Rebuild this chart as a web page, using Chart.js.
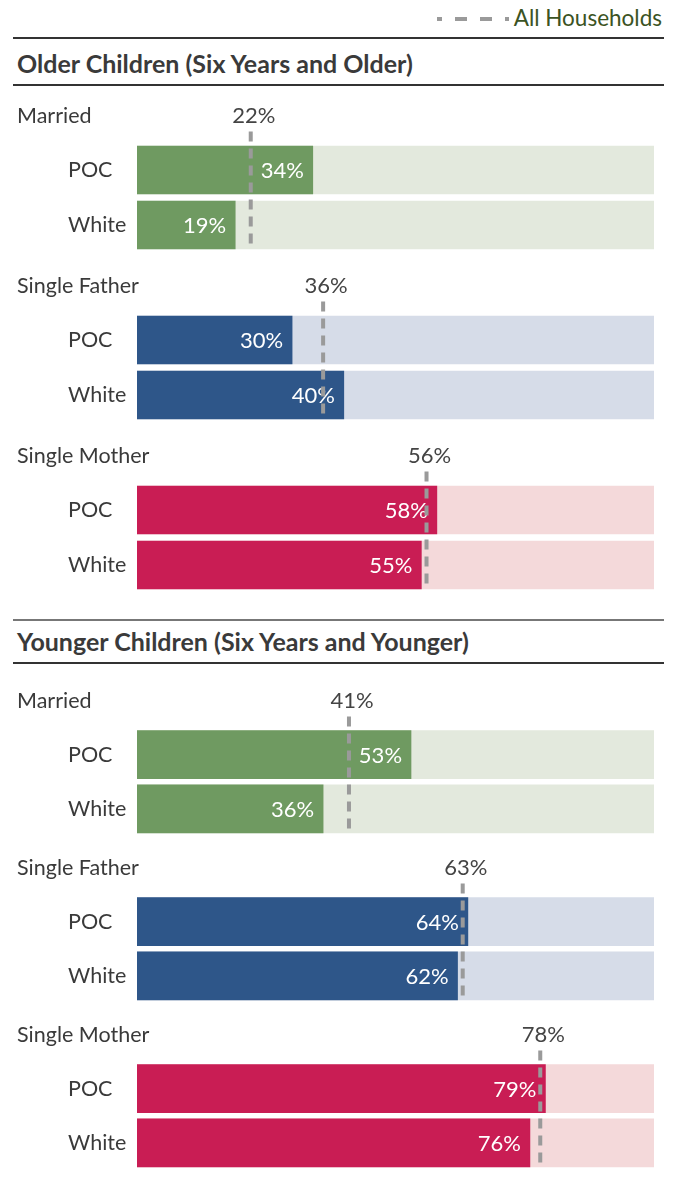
<!DOCTYPE html>
<html>
<head>
<meta charset="utf-8">
<script src="https://cdn.jsdelivr.net/npm/chart.js@4/dist/chart.umd.min.js"></script>
<style>
  body { margin: 0; background: #fff; font-family: Lato, "Noto Sans", sans-serif; }
  #page { position: relative; width: 676px; height: 1193px; overflow: hidden; }
  .rule { position: absolute; left: 13px; width: 651px; }
  .title { position: absolute; left: 17px; font-size: 25px; font-weight: 700; color: #3a3a3a; line-height: 1; }
  .legend { position: absolute; right: 14px; top: 7px; font-size: 22.5px; color: #3b5323; line-height: 1; }
  .group { position: absolute; left: 0; width: 676px; }
  #legendDash { position: absolute; left: 434px; top: 15px; }
</style>
</head>
<body>
<div id="page">
  <canvas id="legendDash" width="78" height="8"></canvas>
  <div class="legend">All Households</div>
</div>
<script>
// valores por sección y tipo de hogar
const secciones = ['Older Children (Six Years and Older)', 'Younger Children (Six Years and Younger)'];
const hogares = ['Married', 'Single Father', 'Single Mother'];
const razas = ['POC', 'White'];
const olderPoc = [34, 30, 58];
const olderWhite = [19, 40, 55];
const olderTodos = [22, 36, 56];
const youngerPoc = [53, 64, 79];
const youngerWhite = [36, 62, 76];
const youngerTodos = [41, 63, 78];

const colores = ['#6f9a61', '#2e5689', '#c91d54'];
const coloresFondo = ['#e3e9dd', '#d6dce8', '#f4d9da'];

const fuente = 'Lato, "Noto Sans", sans-serif';
const page = document.getElementById('page');

// línea punteada de la leyenda
const lctx = document.getElementById('legendDash').getContext('2d');
lctx.strokeStyle = '#9a9a9a';
lctx.lineWidth = 4;
lctx.setLineDash([12, 13]);
lctx.lineDashOffset = 7;
lctx.beginPath();
lctx.moveTo(3, 4);
lctx.lineTo(75, 4);
lctx.stroke();

function addRule(top, color, h) {
  const d = document.createElement('div');
  d.className = 'rule';
  d.style.top = top + 'px';
  d.style.height = h + 'px';
  d.style.background = color;
  page.appendChild(d);
}
function addTitle(top, text) {
  const d = document.createElement('div');
  d.className = 'title';
  d.style.top = top + 'px';
  d.textContent = text;
  page.appendChild(d);
}

addRule(37, '#333', 1.5);
addTitle(51, secciones[0]);
addRule(84, '#333', 1.5);
addRule(619, '#777', 2);
addTitle(629, secciones[1]);
addRule(662, '#333', 1.5);

// plugin: etiqueta del grupo, línea de "All Households" y valores en las barras
const extras = {
  id: 'extras',
  afterDatasetsDraw(chart, args, opts) {
    const { ctx, chartArea } = chart;
    const x = chart.scales.x;
    const y = chart.scales.y;
    ctx.save();
    ctx.textBaseline = 'middle';

    // nombre del grupo
    ctx.font = '21.5px ' + fuente;
    ctx.fillStyle = '#3a3a3a';
    ctx.textAlign = 'left';
    ctx.fillText(opts.grupo, 17, 16);

    // valores dentro de las barras
    ctx.font = '22px ' + fuente;
    ctx.fillStyle = '#fff';
    ctx.textAlign = 'right';
    chart.data.datasets[0].data.forEach((v, i) => {
      ctx.fillText(v + '%', x.getPixelForValue(v) - 9, y.getPixelForValue(i) + 1);
    });

    // línea punteada del total
    const lx = x.getPixelForValue(opts.total);
    ctx.strokeStyle = '#9a9a9a';
    ctx.lineWidth = 4;
    ctx.setLineDash([10, 7]);
    ctx.beginPath();
    ctx.moveTo(lx, chartArea.top - 11);
    ctx.lineTo(lx, y.getPixelForValue(1) + 24);
    ctx.stroke();

    ctx.fillStyle = '#444';
    ctx.textAlign = 'center';
    ctx.fillText(opts.total + '%', lx + 3, 16);
    ctx.restore();
  }
};

function crearGrupo(top, alto, i, poc, white, total) {
  const wrap = document.createElement('div');
  wrap.className = 'group';
  wrap.style.top = top + 'px';
  wrap.style.height = alto + 'px';
  const canvas = document.createElement('canvas');
  wrap.appendChild(canvas);
  page.appendChild(wrap);

  new Chart(canvas.getContext('2d'), {
    type: 'bar',
    data: {
      labels: razas,
      datasets: [
        { data: [poc, white], backgroundColor: colores[i], barThickness: 48 },
        { data: [100, 100], backgroundColor: coloresFondo[i], barThickness: 48 }
      ]
    },
    options: {
      indexAxis: 'y',
      responsive: true,
      maintainAspectRatio: false,
      animation: false,
      grouped: false,
      layout: { padding: { top: 42.5, bottom: alto - 152.5, left: 68, right: 22 } },
      scales: {
        x: { display: false, min: 0, max: 100 },
        y: {
          grid: { display: false, drawTicks: false },
          border: { display: false },
          ticks: {
            crossAlign: 'far',
            color: '#3a3a3a',
            font: { family: fuente, size: 21.5 }
          },
          afterFit(scale) { scale.width = 69; }
        }
      },
      plugins: {
        legend: { display: false },
        tooltip: { enabled: false },
        extras: { grupo: hogares[i], total: total }
      }
    },
    plugins: [extras]
  });
}

hogares.forEach((h, i) => {
  crearGrupo(100 + i * 170, 170, i, olderPoc[i], olderWhite[i], olderTodos[i]);
  crearGrupo(685 + i * 167, 167, i, youngerPoc[i], youngerWhite[i], youngerTodos[i]);
});
</script>
</body>
</html>
